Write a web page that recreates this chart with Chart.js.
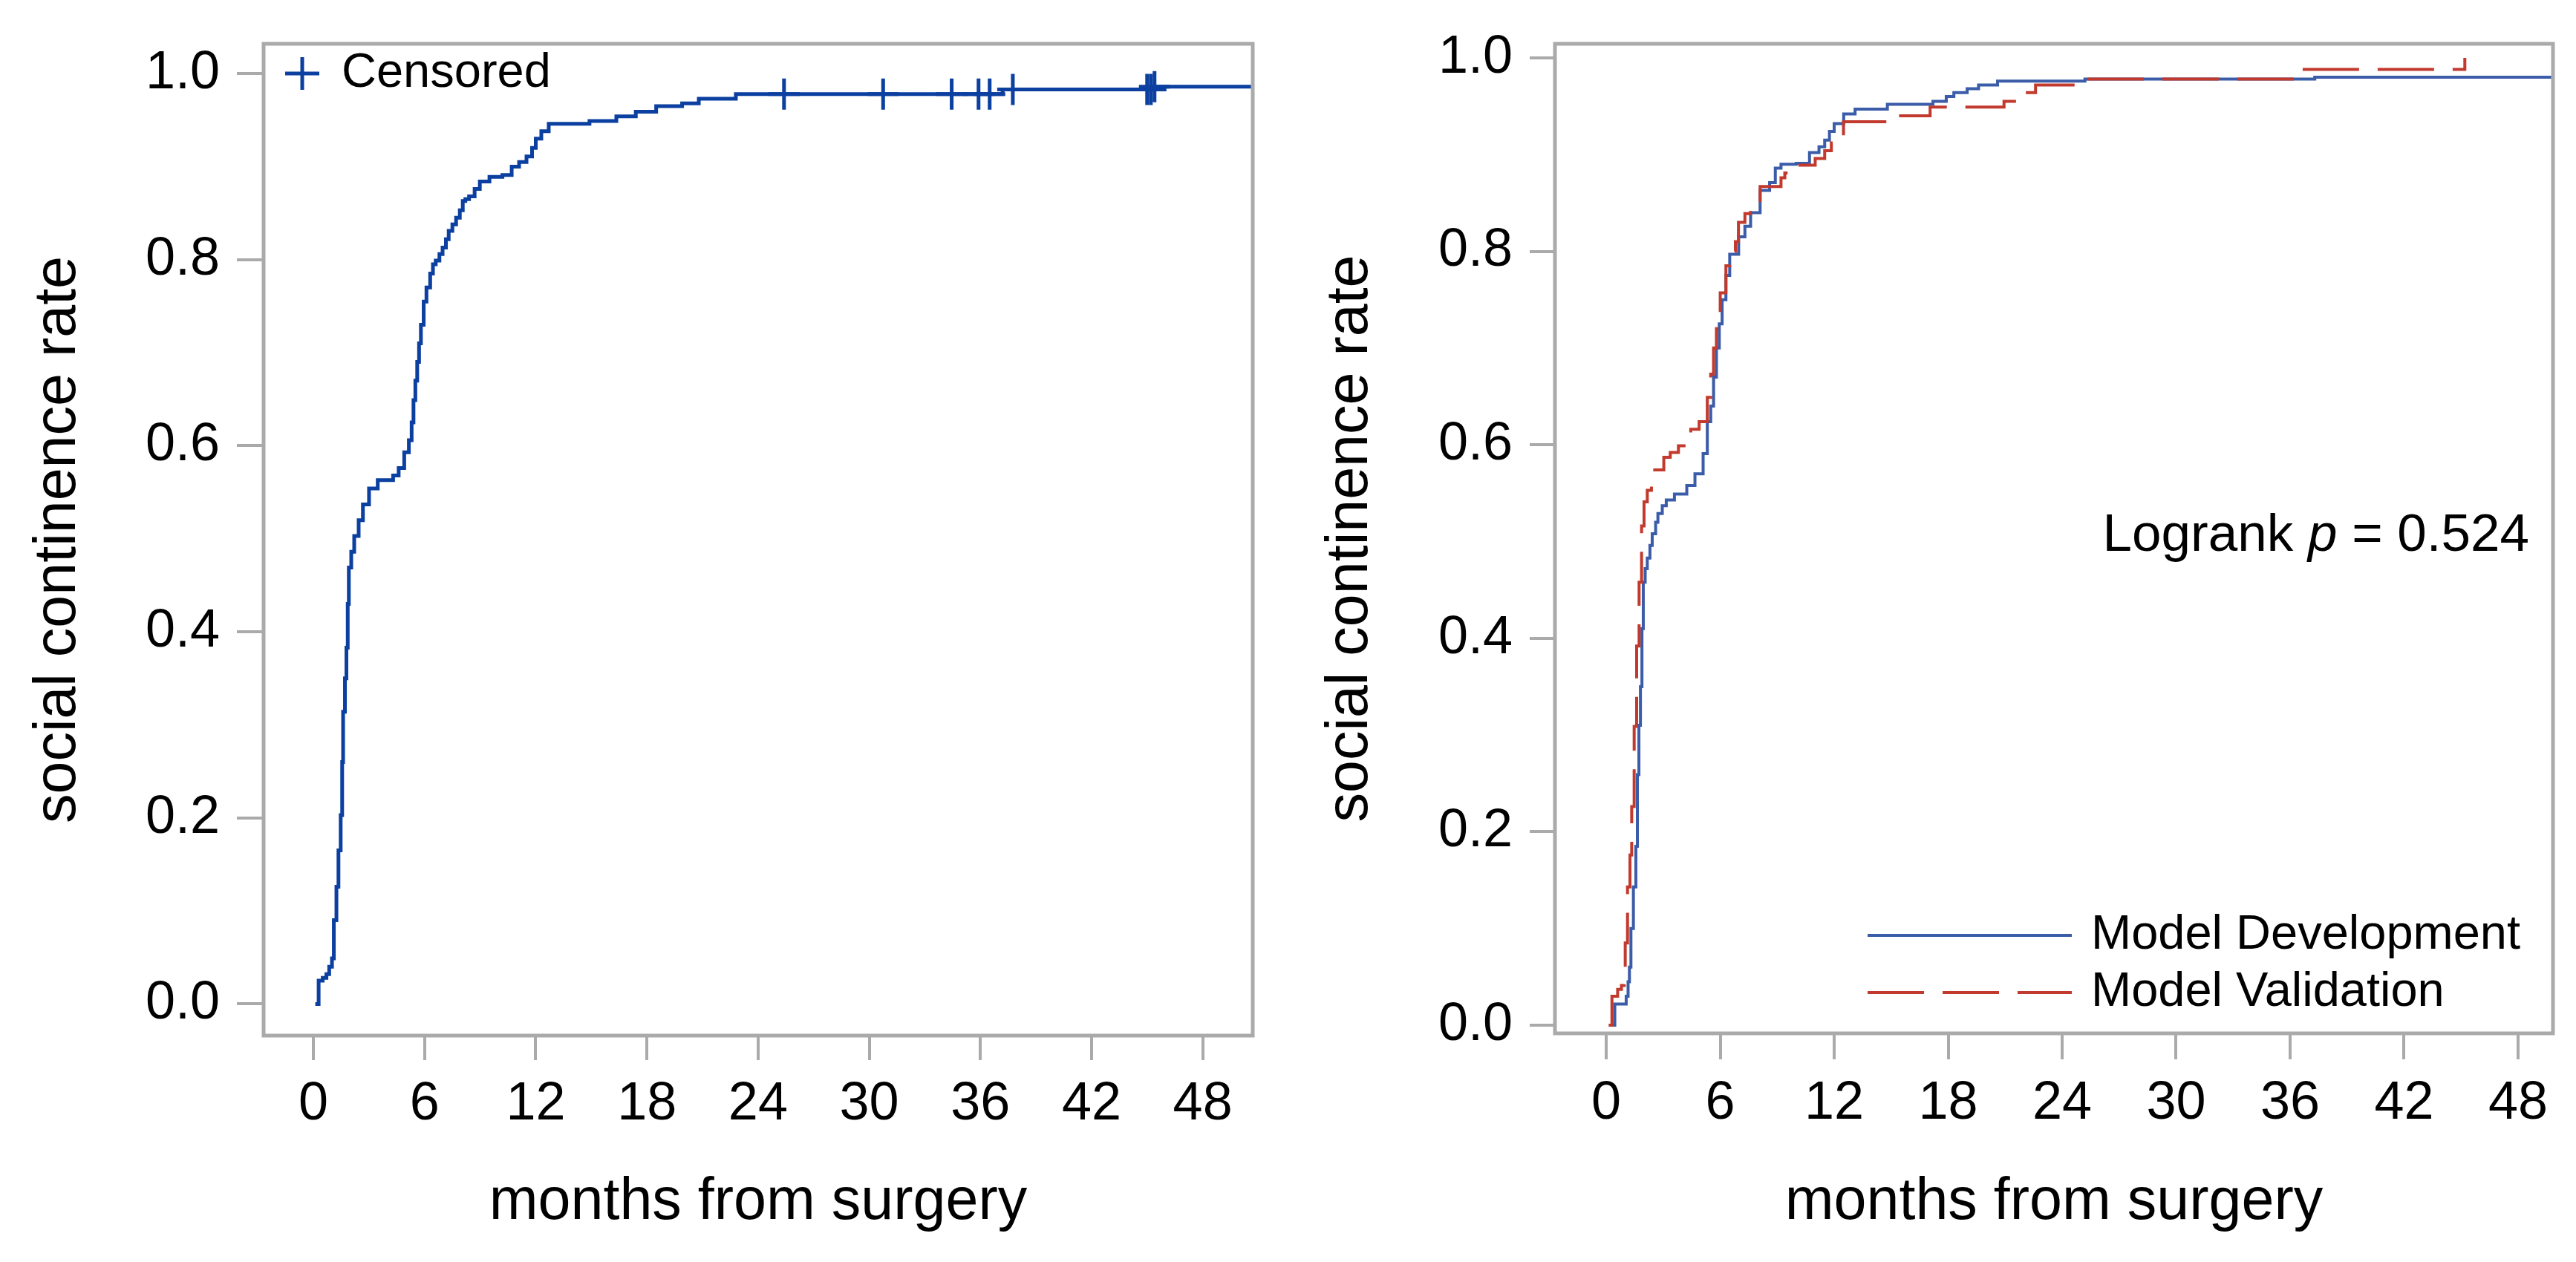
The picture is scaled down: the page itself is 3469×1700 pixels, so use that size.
<!DOCTYPE html>
<html>
<head>
<meta charset="utf-8">
<script src="https://cdn.jsdelivr.net/npm/chart.js@4.4.1/dist/chart.umd.min.js"></script>
<style>
  body { margin: 0; background: #fff; width: 3469px; height: 1700px; position: relative; overflow: hidden; }
  canvas { position: absolute; top: 0; }
  #leftChart { left: 0; }
  #rightChart { left: 1735px; }
</style>
</head>
<body>
<canvas id="leftChart" width="1735" height="1700"></canvas>
<canvas id="rightChart" width="1734" height="1700"></canvas>
<script>
// tick labels
var monthTicks = [0, 6, 12, 18, 24, 30, 36, 42, 48];
var rateTicks = [0, 0.2, 0.4, 0.6, 0.8, 1.0];

// left panel: whole cohort (step points)
var allMonths = [0.1, 0.28, 0.5, 0.7, 0.85, 1.0, 1.1, 1.24, 1.35, 1.47, 1.55, 1.6, 1.7, 1.78, 1.85, 1.91, 2.04, 2.2, 2.44, 2.67, 3.0, 3.47, 4.3, 4.6, 4.9, 5.15, 5.3, 5.4, 5.5, 5.6, 5.7, 5.8, 5.95, 6.1, 6.3, 6.45, 6.6, 6.8, 6.97, 7.15, 7.3, 7.5, 7.7, 7.9, 8.06, 8.2, 8.4, 8.7, 8.98, 9.5, 10.2, 10.7, 11.1, 11.5, 11.8, 12.0, 12.3, 12.7, 14.9, 16.35, 17.4, 18.5, 19.9, 20.8, 22.8, 37.2, 45.3, 50.7];
var allRate = [0, 0.025, 0.028, 0.032, 0.04, 0.049, 0.09, 0.126, 0.165, 0.203, 0.26, 0.314, 0.35, 0.383, 0.43, 0.469, 0.486, 0.503, 0.52, 0.537, 0.554, 0.563, 0.568, 0.576, 0.593, 0.606, 0.625, 0.649, 0.67, 0.69, 0.71, 0.73, 0.755, 0.77, 0.785, 0.795, 0.799, 0.806, 0.813, 0.822, 0.831, 0.838, 0.845, 0.853, 0.863, 0.865, 0.868, 0.876, 0.884, 0.889, 0.891, 0.9, 0.905, 0.911, 0.92, 0.93, 0.938, 0.946, 0.949, 0.954, 0.959, 0.965, 0.968, 0.973, 0.978, 0.983, 0.986, 0.986];
var censorMonths = [25.4, 30.75, 34.45, 35.9, 36.5, 37.75, 45.0, 45.2, 45.4];
var censorRate = [0.978, 0.978, 0.978, 0.978, 0.978, 0.983, 0.983, 0.983, 0.986];

// right panel: development vs validation
var devMonths = [0.15, 0.45, 1.05, 1.15, 1.22, 1.3, 1.43, 1.56, 1.64, 1.72, 1.8, 1.88, 1.95, 2.05, 2.16, 2.3, 2.42, 2.6, 2.72, 2.95, 3.16, 3.59, 4.24, 4.67, 5.1, 5.32, 5.5, 5.65, 5.8, 5.95, 6.1, 6.3, 6.5, 6.97, 7.3, 7.6, 8.1, 8.6, 8.9, 9.2, 10.0, 10.7, 11.2, 11.5, 11.75, 12.0, 12.5, 13.1, 14.8, 17.2, 17.9, 18.3, 19.0, 19.6, 20.6, 25.2, 37.3, 49.84];
var devRate = [0, 0.022, 0.03, 0.045, 0.06, 0.1, 0.143, 0.185, 0.259, 0.31, 0.35, 0.41, 0.458, 0.472, 0.483, 0.496, 0.508, 0.52, 0.529, 0.537, 0.543, 0.549, 0.558, 0.57, 0.591, 0.624, 0.64, 0.67, 0.7, 0.725, 0.75, 0.775, 0.797, 0.815, 0.826, 0.84, 0.863, 0.871, 0.886, 0.89, 0.891, 0.902, 0.908, 0.915, 0.924, 0.932, 0.942, 0.947, 0.952, 0.955, 0.96, 0.964, 0.968, 0.972, 0.976, 0.978, 0.98, 0.98];
var valMonths = [0.13, 0.3, 0.6, 0.8, 0.95, 1.0, 1.12, 1.25, 1.34, 1.47, 1.6, 1.73, 1.86, 1.99, 2.16, 2.38, 3.03, 3.37, 3.8, 4.45, 4.89, 5.32, 5.5, 5.65, 5.8, 6.0, 6.3, 6.5, 6.8, 6.96, 7.3, 7.6, 8.1, 9.2, 9.4, 10.05, 11.0, 11.5, 11.85, 12.49, 15.1, 17.05, 20.94, 21.9, 22.6, 24.8, 36.5, 45.2];
var valRate = [0, 0.03, 0.037, 0.041, 0.06, 0.085, 0.143, 0.176, 0.226, 0.309, 0.392, 0.458, 0.516, 0.541, 0.553, 0.574, 0.587, 0.592, 0.599, 0.616, 0.624, 0.649, 0.673, 0.7, 0.72, 0.757, 0.785, 0.8, 0.81, 0.83, 0.839, 0.85, 0.867, 0.876, 0.881, 0.889, 0.896, 0.904, 0.912, 0.934, 0.94, 0.949, 0.955, 0.964, 0.972, 0.978, 0.988, 1.0];
var logrankP = '0.524';

var FONT = '"Liberation Sans", Arial, sans-serif';
Chart.defaults.font.family = FONT;
Chart.defaults.color = '#000';

function pts(xs, ys) {
  return xs.map(function (x, i) { return { x: x, y: ys[i] }; });
}

function makeScales(xMin, xMax, yMin, yMax, yWidth, xHeight, yTitlePad, xTickLen, yTickLen) {
  return {
    x: {
      type: 'linear', min: xMin, max: xMax, bounds: 'data',
      afterBuildTicks: function (s) { s.ticks = monthTicks.map(function (v) { return { value: v }; }); },
      afterFit: function (s) { s.height = xHeight; },
      grid: { drawOnChartArea: false, drawTicks: true, tickLength: xTickLen, color: '#aaaaaa', lineWidth: 4 },
      border: { display: false },
      ticks: { font: { size: 72, lineHeight: 1 }, padding: 24, maxRotation: 0, autoSkip: false,
        callback: function (v) { return String(v); } },
      title: { display: true, text: 'months from surgery', font: { size: 79, lineHeight: 1 }, padding: { top: 0, bottom: 40 } }
    },
    y: {
      type: 'linear', min: yMin, max: yMax, bounds: 'data',
      afterBuildTicks: function (s) { s.ticks = rateTicks.map(function (v) { return { value: v }; }); },
      afterFit: function (s) { s.width = yWidth; },
      grid: { drawOnChartArea: false, drawTicks: true, tickLength: yTickLen, color: '#aaaaaa', lineWidth: 4 },
      border: { display: false },
      ticks: { font: { size: 72, lineHeight: 1 }, padding: 23, autoSkip: false,
        callback: function (v) { return v.toFixed(1); } },
      title: { display: true, text: 'social continence rate', font: { size: 79, lineHeight: 1 }, padding: { top: yTitlePad, bottom: 0 } }
    }
  };
}

var framePlugin = {
  id: 'frame',
  afterDatasetsDraw: function (chart) {
    var a = chart.chartArea, c = chart.ctx;
    c.save();
    c.strokeStyle = '#aaaaaa';
    c.lineWidth = 5;
    c.strokeRect(a.left, a.top, a.right - a.left, a.bottom - a.top);
    c.restore();
  }
};

// left legend: "+ Censored"
var censorLegend = {
  id: 'censorLegend',
  afterDraw: function (chart) {
    var c = chart.ctx, ds = chart.data.datasets[0];
    c.save();
    c.strokeStyle = ds.pointBorderColor;
    c.lineWidth = 5;
    c.beginPath();
    c.moveTo(384, 99); c.lineTo(430, 99);
    c.moveTo(407, 77); c.lineTo(407, 121);
    c.stroke();
    c.fillStyle = '#000';
    c.font = '65px ' + FONT;
    c.textBaseline = 'middle';
    c.fillText(ds.label, 460, 99);
    c.restore();
  }
};

// right legend + logrank note
var groupLegend = {
  id: 'groupLegend',
  afterDraw: function (chart) {
    var c = chart.ctx;
    c.save();
    c.font = '65px ' + FONT;
    c.textBaseline = 'middle';
    var rows = [chart.data.datasets[1], chart.data.datasets[0]];
    var ys = [1260, 1337];
    rows.forEach(function (ds, i) {
      c.strokeStyle = ds.borderColor;
      c.lineWidth = 4;
      c.setLineDash(ds.borderDash || []);
      c.beginPath();
      c.moveTo(780, ys[i]); c.lineTo(1055, ys[i]);
      c.stroke();
      c.setLineDash([]);
      c.fillStyle = '#000';
      c.fillText(ds.label, 1081, ys[i]);
    });
    var f1 = '71px ' + FONT, f2 = 'italic 71px ' + FONT;
    var s1 = 'Logrank ', s2 = 'p', s3 = ' = ' + logrankP;
    c.font = f1; var w1 = c.measureText(s1).width, w3 = c.measureText(s3).width;
    c.font = f2; var w2 = c.measureText(s2).width;
    var x = 1671 - (w1 + w2 + w3), y = 722;
    c.font = f1; c.fillText(s1, x, y);
    c.font = f2; c.fillText(s2, x + w1, y);
    c.font = f1; c.fillText(s3, x + w1 + w2, y);
    c.restore();
  }
};

new Chart(document.getElementById('leftChart').getContext('2d'), {
  type: 'line',
  data: {
    datasets: [{
      label: 'Censored',
      data: pts(censorMonths, censorRate),
      showLine: false,
      pointStyle: 'cross',
      pointRadius: 21,
      pointBorderWidth: 5,
      pointBorderColor: '#0b3fa0',
      order: 0
    }, {
      label: 'all',
      data: pts(allMonths, allRate),
      stepped: 'before',
      borderColor: '#0b3fa0',
      borderWidth: 5,
      pointRadius: 0,
      fill: false,
      order: 1
    }]
  },
  options: {
    responsive: false, animation: false, devicePixelRatio: 1, events: [],
    layout: { padding: { top: 45, right: 48, bottom: 0, left: 0 } },
    plugins: { legend: { display: false }, tooltip: { enabled: false } },
    scales: makeScales(-2.69, 50.7, -0.034, 1.032, 355, 305, 40, 33, 36)
  },
  plugins: [framePlugin, censorLegend]
});

new Chart(document.getElementById('rightChart').getContext('2d'), {
  type: 'line',
  data: {
    datasets: [{
      label: 'Model Validation',
      data: pts(valMonths, valRate),
      stepped: 'before',
      borderColor: '#c23a2e',
      borderWidth: 4,
      borderDash: [76, 25],
      pointRadius: 0,
      fill: false,
      order: 0
    }, {
      label: 'Model Development',
      data: pts(devMonths, devRate),
      stepped: 'before',
      borderColor: '#3b5ca8',
      borderWidth: 4,
      pointRadius: 0,
      fill: false,
      order: 1
    }]
  },
  options: {
    responsive: false, animation: false, devicePixelRatio: 1, events: [],
    layout: { padding: { top: 52, right: 31, bottom: 0, left: 0 } },
    plugins: { legend: { display: false }, tooltip: { enabled: false } },
    scales: makeScales(-2.7, 49.84, -0.0084, 1.0145, 359, 308, 45, 35, 34)
  },
  plugins: [framePlugin, groupLegend]
});
</script>
</body>
</html>
